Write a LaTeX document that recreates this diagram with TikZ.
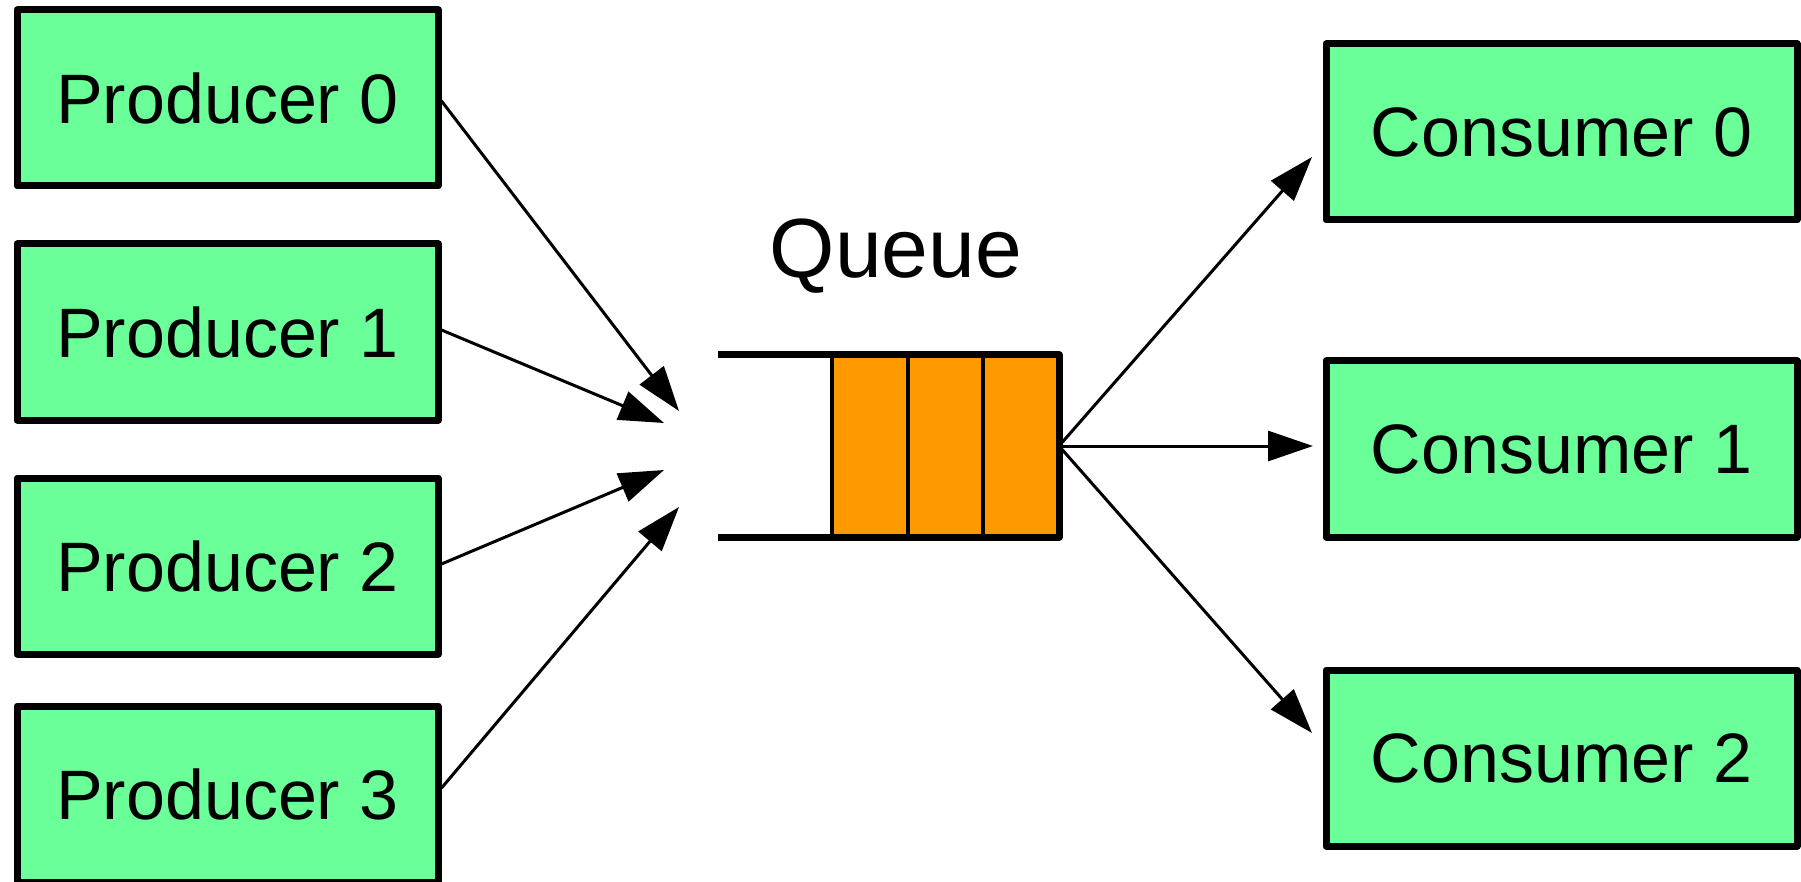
\documentclass[tikz,border=0pt]{standalone}
\usepackage{fontspec}
\setmainfont{Liberation Sans}
\usetikzlibrary{arrows.meta}
\definecolor{boxgreen}{HTML}{6AFF99}
\definecolor{qorange}{HTML}{FF9900}
\begin{document}
\begin{tikzpicture}[x=1pt,y=-1pt,
 box/.style={draw=black, fill=boxgreen, line width=7pt, line join=round, inner sep=0pt, font=\fontsize{70}{80}\selectfont},
 pbox/.style={box, minimum width=421pt, minimum height=176pt},
 cbox/.style={box, minimum width=471pt, minimum height=176pt},
 arr/.style={line width=3pt, -{Triangle[length=45pt,width=30pt]}},
 qedge/.style={line width=7pt},
 qthin/.style={line width=3.5pt}]
\useasboundingbox (0,0) rectangle (1801,882);
% producers
\node[pbox] (p0) at (227.5,98) {Producer 0};
\node[pbox] (p1) at (227.5,332) {Producer 1};
\node[pbox] (p2) at (227.5,566) {Producer 2};
\node[pbox] (p3) at (227.5,794) {Producer 3};
% consumers
\node[cbox] (c0) at (1561.5,132) {Consumer 0};
\node[cbox] (c1) at (1561.5,449) {Consumer 1};
\node[cbox] (c2) at (1561.5,758) {Consumer 2};
% queue
\node[anchor=base, font=\fontsize{84}{95}\selectfont, inner sep=0pt] (ql) at (896,278) {Queue};
\fill[qorange] (832,355) rectangle (1059,537);
\draw[qthin] (832,355) -- (832,537);
\draw[qthin] (908,355) -- (908,537);
\draw[qthin] (983,355) -- (983,537);
\draw[qedge, line join=round] (718,355) -- (1059,355) -- (1059,537) -- (718,537);
\coordinate (qr) at (1059,446);
% arrow tips
\coordinate (t0) at (679,411);
\coordinate (t1) at (664,423);
\coordinate (t2) at (664,470);
\coordinate (t3) at (679,507);
\coordinate (u0) at (1312,157);
\coordinate (u1) at (1313,446);
\coordinate (u2) at (1312,733);
\draw[arr] ([yshift=-3pt]p0.east) -- (t0);
\draw[arr] ([yshift=2pt]p1.east) -- (t1);
\draw[arr] ([yshift=2pt]p2.east) -- (t2);
\draw[arr] ([yshift=6pt]p3.east) -- (t3);
\draw[arr] (qr) -- (u0);
\draw[arr] (qr) -- (u1);
\draw[arr] (qr) -- (u2);
\end{tikzpicture}
\end{document}
